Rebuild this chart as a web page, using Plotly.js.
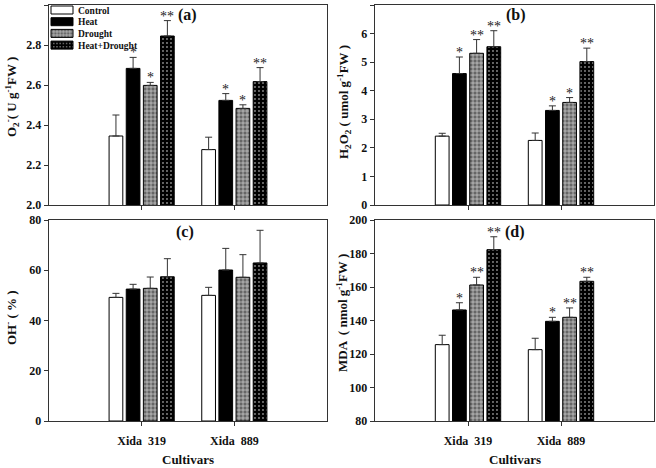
<!DOCTYPE html>
<html><head><meta charset="utf-8">
<script src="https://cdn.plot.ly/plotly-3.0.1.min.js"></script>
<style>html,body{margin:0;padding:0;background:#fff}#chart{width:656px;height:468px}</style>
</head><body><div id="chart"></div>
<script>
// ---- data ----
const cultivars = ['Xida  319', 'Xida  889'];
const treatments = ['Control', 'Heat', 'Drought', 'Heat+Drought'];

// (a) O2- (U g-1 FW)
const o2Values = [[2.345, 2.277], [2.683, 2.523], [2.598, 2.483], [2.845, 2.617]];
const o2Errors = [[0.105, 0.062], [0.055, 0.034], [0.015, 0.018], [0.077, 0.070]];
const o2Marks  = [['', ''], ['*', '*'], ['*', '*'], ['**', '**']];

// (b) H2O2 (umol g-1 FW)
const h2o2Values = [[2.41, 2.26], [4.60, 3.31], [5.31, 3.59], [5.54, 5.02]];
const h2o2Errors = [[0.10, 0.26], [0.58, 0.16], [0.48, 0.17], [0.56, 0.47]];
const h2o2Marks  = [['', ''], ['*', '*'], ['**', '*'], ['**', '**']];

// (c) OH- (%)
const ohValues = [[49.2, 50.0], [52.5, 60.1], [52.8, 57.2], [57.4, 62.9]];
const ohErrors = [[1.6, 3.2], [1.9, 8.6], [4.5, 9.0], [7.2, 13.0]];
const ohMarks  = [['', ''], ['', ''], ['', ''], ['', '']];

// (d) MDA (nmol g-1 FW)
const mdaValues = [[125.6, 122.6], [146.3, 139.5], [161.2, 141.9], [182.3, 163.4]];
const mdaErrors = [[5.6, 6.8], [4.3, 2.4], [4.6, 5.6], [7.7, 2.4]];
const mdaMarks  = [['', ''], ['*', '*'], ['**', '**'], ['**', '**']];

// ---- styles ----
const FONT = 'Liberation Serif, Times New Roman, serif';
const INK = '#333';
const markerStyles = [
  {color: '#ffffff', line: {color: '#000', width: 1}},
  {color: '#000000', line: {color: '#000', width: 1}},
  {color: '#777777', line: {color: '#000', width: 1},
   pattern: {shape: '+', fgcolor: '#d8d8d8', bgcolor: '#666666', size: 4, solidity: 0.3}},
  {color: '#000000', line: {color: '#000', width: 1},
   pattern: {shape: '.', fgcolor: '#ffffff', bgcolor: '#000000', size: 4, solidity: 0.1}}
];
const BARGAP = 0.26;
const slot = (1 - BARGAP) / treatments.length;

const panels = [
  {vals: o2Values, errs: o2Errors, marks: o2Marks, xa: 'x', ya: 'y'},
  {vals: h2o2Values, errs: h2o2Errors, marks: h2o2Marks, xa: 'x2', ya: 'y2'},
  {vals: ohValues, errs: ohErrors, marks: ohMarks, xa: 'x3', ya: 'y3'},
  {vals: mdaValues, errs: mdaErrors, marks: mdaMarks, xa: 'x4', ya: 'y4'}
];

const xpos = cultivars.map((c, i) => i);
const traces = [];
const annotations = [];
panels.forEach((p, pi) => {
  treatments.forEach((t, ti) => {
    traces.push({
      type: 'bar', name: t, x: xpos, y: p.vals[ti],
      xaxis: p.xa, yaxis: p.ya,
      showlegend: pi === 0,
      marker: markerStyles[ti],
      error_y: {type: 'data', symmetric: false, array: p.errs[ti],
                arrayminus: p.errs[ti].map(() => 0),
                color: INK, thickness: 1, width: 3.5},
      hoverinfo: 'skip'
    });
    p.marks[ti].forEach((m, ci) => {
      if (!m) return;
      annotations.push({
        xref: p.xa, yref: p.ya,
        x: xpos[ci] + (ti - (treatments.length - 1) / 2) * slot,
        y: p.vals[ti][ci] + p.errs[ti][ci],
        text: m, showarrow: false, yanchor: 'bottom', yshift: -5,
        font: {family: FONT, size: 14, color: '#222'}
      });
    });
  });
});

const W = 656, H = 468;
const px = v => v / W, py = v => 1 - v / H;
function textAnn(x, y, text, size, angle) {
  return {xref: 'paper', yref: 'paper', x: px(x), y: py(y), text: text,
          showarrow: false, xanchor: 'center', yanchor: 'middle',
          textangle: angle || 0,
          font: {family: FONT, size: size, color: '#111', weight: 'bold'}};
}
annotations.push(textAnn(188, 15, '(a)', 16));
annotations.push(textAnn(516, 15, '(b)', 16));
annotations.push(textAnn(185, 232, '(c)', 16));
annotations.push(textAnn(515, 232, '(d)', 16));
annotations.push(textAnn(12, 97, 'O<sub>2</sub><sup>-</sup>( U g<sup>-1</sup>FW )', 13, -90));
annotations.push(textAnn(344, 102, 'H<sub>2</sub>O<sub>2</sub> ( umol g<sup>-1</sup>FW )', 13, -90));
annotations.push(textAnn(11, 318, 'OH<sup>-</sup> ( % )', 13, -90));
annotations.push(textAnn(342, 313, 'MDA  ( nmol g<sup>-1</sup>FW )', 13, -90));
annotations.push(textAnn(188, 459, 'Cultivars', 13));
annotations.push(textAnn(515, 459, 'Cultivars', 13));

const tickFont = {family: FONT, size: 12, color: '#111', weight: 'bold'};
function xAxis(domain, anchor, labels) {
  const ax = {domain: domain, anchor: anchor, range: [-1, 2], tickvals: xpos,
          showticklabels: labels,
          ticks: 'outside', ticklen: 4, tickwidth: 1, tickcolor: INK,
          showline: true, mirror: true, linecolor: INK, linewidth: 1.3,
          showgrid: false, zeroline: false, tickfont: tickFont, ticklabelstandoff: 4,
          fixedrange: true};
  if (labels) ax.ticktext = cultivars;
  return ax;
}
function yAxis(domain, anchor, range, dtick, fmt) {
  return {domain: domain, anchor: anchor, range: range, dtick: dtick, tick0: range[0],
          tickformat: fmt || '', ticks: 'outside', ticklen: 4, tickwidth: 1, tickcolor: INK,
          showline: true, mirror: true, linecolor: INK, linewidth: 1.3,
          showgrid: false, zeroline: false, tickfont: tickFont, fixedrange: true};
}
const dxL = [px(49), px(327)], dxR = [px(375), px(654)];
const dyT = [py(205), py(5)], dyB = [py(421), py(220)];

const layout = {
  width: W, height: H, margin: {l: 0, r: 0, t: 0, b: 0},
  paper_bgcolor: '#fff', plot_bgcolor: '#fff',
  barmode: 'group', bargap: BARGAP, bargroupgap: 0.2,
  showlegend: true,
  legend: {x: px(49), y: 1, xanchor: 'left', yanchor: 'top',
           bgcolor: 'rgba(0,0,0,0)', borderwidth: 0,
           font: {family: FONT, size: 9.5, color: '#111', weight: 'bold'}},
  xaxis: xAxis(dxL, 'y', false), yaxis: yAxis(dyT, 'x', [2, 3], 0.2, '.1f'),
  xaxis2: xAxis(dxR, 'y2', false), yaxis2: yAxis(dyT, 'x2', [0, 7], 1),
  xaxis3: xAxis(dxL, 'y3', true), yaxis3: yAxis(dyB, 'x3', [0, 80], 20),
  xaxis4: xAxis(dxR, 'y4', true), yaxis4: yAxis(dyB, 'x4', [80, 200], 20),
  annotations: annotations
};

Plotly.newPlot('chart', traces, layout, {staticPlot: true, displayModeBar: false}).then(gd => {
  // compact the legend rows to match the original figure
  gd.querySelectorAll('.legend .groups').forEach(g => g.setAttribute('transform', 'translate(0,0)'));
  const items = gd.querySelectorAll('.legend .traces');
  items.forEach((g, i) => {
    g.setAttribute('transform', 'translate(0,' + (10 + i * 11.7) + ')');
    g.querySelectorAll('.legendpoints path').forEach(path => {
      path.setAttribute('transform', 'translate(0,0)');
      path.setAttribute('d', 'M2,-4H24V4H2Z');
    });
    const txt = g.querySelector('.legendtext');
    if (txt) {
      txt.setAttribute('x', '29');
      txt.querySelectorAll('tspan').forEach(ts => { if (ts.getAttribute('x')) ts.setAttribute('x', '29'); });
    }
  });
});
</script></body></html>
